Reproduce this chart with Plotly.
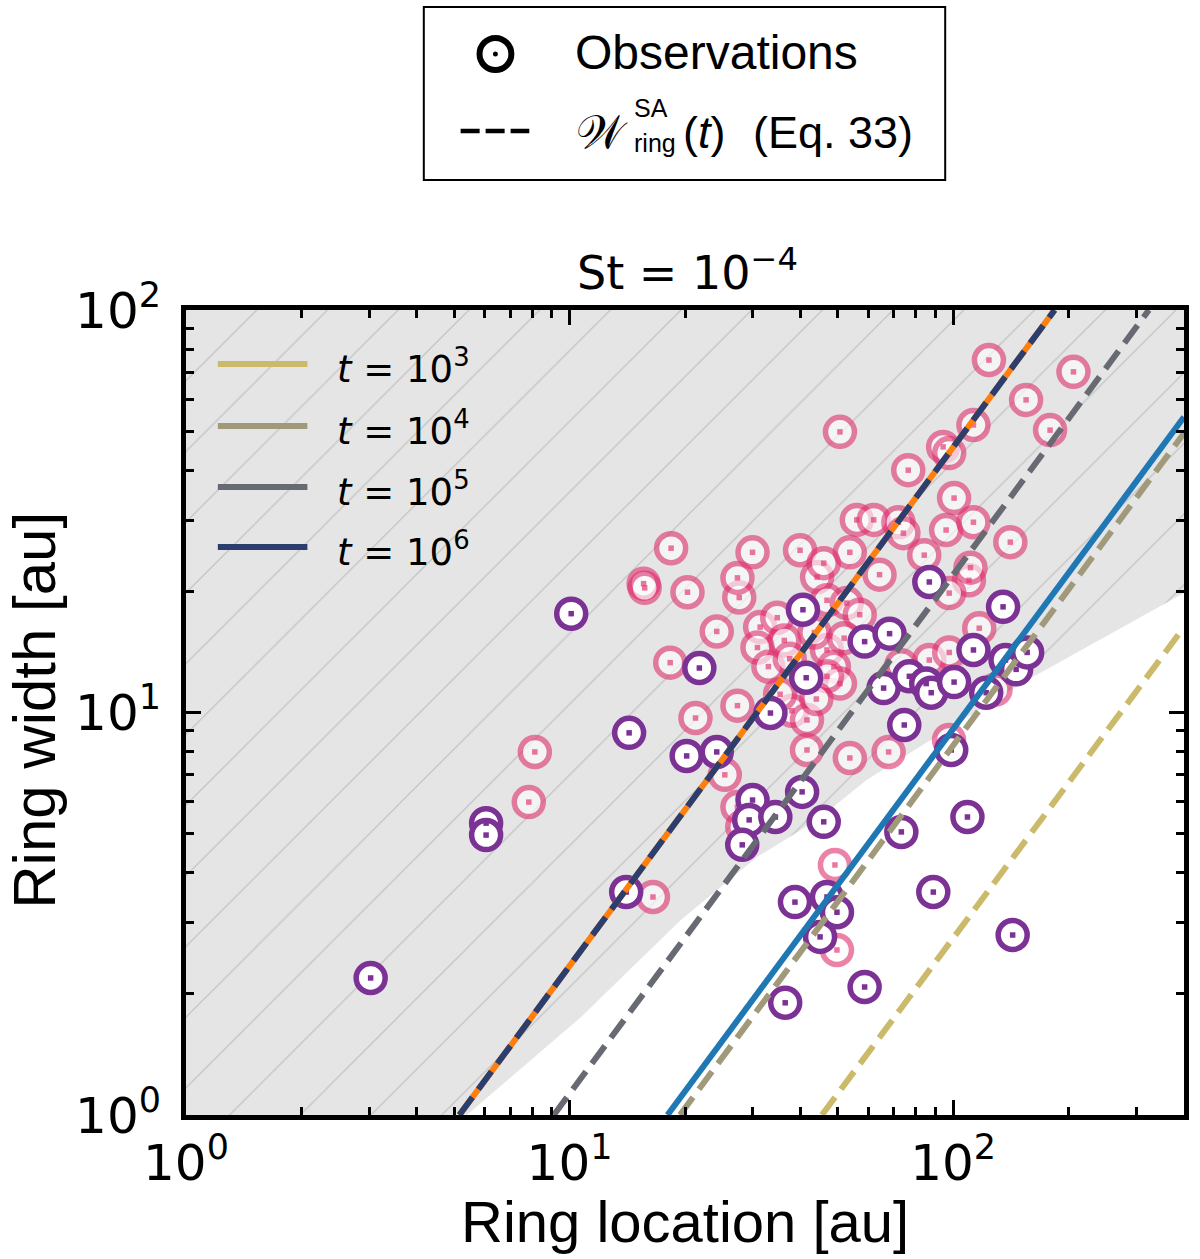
import numpy as np
import plotly.graph_objects as go

# ---------------- data ----------------
# Observations (ring location [au], ring width [au])
pink_x = [8.12, 7.83, 16.5, 18.4, 15.6, 15.7, 20.3, 24.2, 18.3, 21.3, 27.4, 25.4, 27.4, 28.2,
          49.2, 49.8, 27.7, 31.4, 34.8, 36.3, 30.9, 44.2, 64.3, 46.9, 52.8, 57.1, 46.9, 48.9,
          50.7, 46.9, 38.0, 41.6, 35.4, 41.6, 53.8, 67.9, 97.6, 117, 110, 97.7, 86.7, 97.7,
          73.3, 129, 124, 50.7, 113, 94.2, 97.7, 76.4, 100.6, 56.1, 62.1, 72.0, 74.2, 95.9,
          113, 141, 30.0, 39.9, 53.8, 46.0, 84.1, 111, 27.4, 206, 155, 179,
          33.0, 37.5, 43.5, 52.0, 44.0]
pink_y = [7.98, 5.99, 3.48, 25.6, 20.9, 20.4, 19.9, 15.9, 13.3, 9.69, 10.4, 7.0, 5.82, 5.2,
          4.18, 2.57, 19.3, 16.3, 17.2, 15.1, 14.5, 21.7, 22.0, 19.0, 18.7, 17.5, 14.3, 13.0,
          11.8, 12.3, 10.1, 9.58, 11.1, 8.07, 7.71, 7.98, 8.55, 16.2, 21.3, 19.8, 13.5, 14.1,
          13.1, 11.4, 75.1, 49.8, 51.8, 45.7, 44.1, 40.0, 34.1, 30.1, 30.1, 29.7, 27.9, 28.4,
          29.7, 26.5, 25.0, 25.3, 25.0, 23.5, 24.6, 22.9, 21.6, 70.2, 59.8, 50.3,
          13.0, 13.6, 15.8, 15.3, 10.8]

purple_x = [3.03, 6.06, 6.06, 10.1, 14.3, 14.05, 21.8, 20.2, 24.2, 33.4, 30.0, 29.4, 28.2,
            34.4, 40.4, 38.7, 46.0, 73.3, 109, 46.9, 49.8, 45.0, 88.8, 143, 58.8, 36.5,
            86.7, 40.6, 135, 58.8, 68.3, 41.4, 65.9, 76.9, 85.1, 87.7, 100.6, 113, 122,
            137, 146, 156, 74.6, 98.9]
purple_y = [2.19, 5.31, 4.96, 17.6, 8.9, 3.58, 12.9, 7.8, 7.98, 9.97, 6.06, 5.41, 4.69,
            5.5, 6.35, 3.38, 5.35, 5.05, 5.5, 3.48, 3.19, 2.77, 3.58, 2.80, 2.08, 1.90,
            21.1, 18.0, 18.3, 15.0, 15.7, 12.2, 11.5, 12.3, 11.8, 11.2, 11.9, 14.3, 11.2,
            13.5, 12.8, 14.1, 9.31, 8.07]

# shaded region lower boundary
shade_x = [5.4, 10.7, 19.5, 30.9, 44.2, 59.5, 155, 400]
shade_y = [1.0, 1.75, 3.05, 4.38, 5.41, 6.8, 12.0, 19.8]

# model lines (end points)
orange_x = [5.16, 184]; orange_y = [1, 100]
blue_x = [18.0, 400];   blue_y = [1, 54.2]
t6_x = [5.16, 184];     t6_y = [1, 100]
t5_x = [9.1, 324];      t5_y = [1, 100]
t4_x = [19.4, 400];     t4_y = [1, 49.4]
t3_x = [45.5, 400];     t3_y = [1, 16.3]

legend_labels = ["<i>t</i> = 10<sup>3</sup>", "<i>t</i> = 10<sup>4</sup>",
                 "<i>t</i> = 10<sup>5</sup>", "<i>t</i> = 10<sup>6</sup>"]
tick_vals = [1, 10, 100]
tick_text = ["10<sup>0</sup>", "10<sup>1</sup>", "10<sup>2</sup>"]

# ---------------- style ----------------
PINK = "#e0306f"
PURPLE = "#7b3294"
C3, C4, C5, C6 = "#cbba69", "#a09a7b", "#676a72", "#2c3e6e"
ORANGE, BLUE = "#ff7f0e", "#1f77b4"
DASH = "22px,10px"

W, H = 1200, 1259
PL, PR, PT, PB = 186, 1189, 310, 1115


def pxx(v):
    return (v - PL) / (PR - PL)


def pxy(v):
    return (PB - v) / (PB - PT)


fig = go.Figure()

# hatched region
fig.add_trace(go.Scatter(
    x=shade_x + [400, 1, 1], y=shade_y + [100, 100, 1],
    mode="lines", fill="toself", line=dict(width=0),
    fillcolor="#e5e5e5",
    fillpattern=dict(shape="/", size=50, solidity=0.025,
                     fgcolor="#a0a0a0", bgcolor="#e5e5e5"),
    hoverinfo="skip", showlegend=False))

# pink observations
fig.add_trace(go.Scatter(
    x=pink_x, y=pink_y, mode="markers",
    marker=dict(symbol="circle", size=29, color="white", opacity=0.6,
                line=dict(color=PINK, width=5.5)),
    showlegend=False))
fig.add_trace(go.Scatter(
    x=pink_x, y=pink_y, mode="markers",
    marker=dict(symbol="square", size=5.5, color=PINK, opacity=0.65,
                line=dict(width=0)),
    showlegend=False))
# purple observations
fig.add_trace(go.Scatter(
    x=purple_x, y=purple_y, mode="markers",
    marker=dict(symbol="circle", size=29, color="white",
                line=dict(color=PURPLE, width=5.5)),
    showlegend=False))
fig.add_trace(go.Scatter(
    x=purple_x, y=purple_y, mode="markers",
    marker=dict(symbol="square", size=5.5, color=PURPLE, line=dict(width=0)),
    showlegend=False))

# lines
for xs, ys, col, dash in [
        (orange_x, orange_y, ORANGE, "solid"),
        (t6_x, t6_y, C6, DASH),
        (t5_x, t5_y, C5, DASH),
        (blue_x, blue_y, BLUE, "solid"),
        (t4_x, t4_y, C4, DASH),
        (t3_x, t3_y, C3, DASH)]:
    fig.add_trace(go.Scatter(x=xs, y=ys, mode="lines",
                             line=dict(color=col, width=6, dash=dash),
                             showlegend=False, hoverinfo="skip"))

axis_common = dict(
    type="log", showgrid=False, zeroline=False,
    showline=True, linewidth=5, linecolor="black", mirror="allticks",
    ticks="inside", ticklen=15, tickwidth=3, tickcolor="black",
    tickvals=tick_vals, ticktext=tick_text,
    tickfont=dict(family="DejaVu Sans", size=50, color="black"),
)
fig.update_xaxes(range=[0, np.log10(400)], ticklabelstandoff=0,
                 minor=dict(tickvals=[2, 3, 4, 5, 6, 7, 8, 9, 20, 30, 40, 50, 60, 70, 80, 90,
                                      200, 300, 400],
                            ticks="inside", ticklen=8, tickwidth=2.5, tickcolor="black",
                            showgrid=False),
                 **axis_common)
fig.update_yaxes(range=[0, 2], ticklabelstandoff=10,
                 minor=dict(tickvals=[2, 3, 4, 5, 6, 7, 8, 9, 20, 30, 40, 50, 60, 70, 80, 90],
                            ticks="inside", ticklen=8, tickwidth=2.5, tickcolor="black",
                            showgrid=False),
                 **axis_common)

shapes = []
annotations = []

# inner legend
for yy, col, lab in zip([364, 426, 487, 547], [C3, C4, C5, C6], legend_labels):
    shapes.append(dict(type="line", xref="paper", yref="paper",
                       x0=pxx(218), x1=pxx(308), y0=pxy(yy), y1=pxy(yy),
                       line=dict(color=col, width=6)))
    annotations.append(dict(text=lab, xref="paper", yref="paper",
                            x=pxx(336), y=pxy(yy + 2), xanchor="left", yanchor="middle",
                            showarrow=False,
                            font=dict(family="DejaVu Sans", size=37, color="black")))

# top legend box
shapes.append(dict(type="rect", xref="paper", yref="paper",
                   x0=pxx(425), x1=pxx(949), y0=pxy(180), y1=pxy(7),
                   line=dict(color="black", width=2), fillcolor="white", layer="above"))
shapes.append(dict(type="circle", xref="paper", yref="paper",
                   x0=pxx(481), x1=pxx(513), y0=pxy(70), y1=pxy(38),
                   line=dict(color="black", width=6)))
shapes.append(dict(type="circle", xref="paper", yref="paper",
                   x0=pxx(494.5), x1=pxx(499.5), y0=pxy(56.5), y1=pxy(51.5),
                   line=dict(color="black", width=0), fillcolor="black"))
shapes.append(dict(type="line", xref="paper", yref="paper",
                   x0=pxx(462), x1=pxx(531), y0=pxy(131), y1=pxy(131),
                   line=dict(color="black", width=4.5, dash="19px,6px")))

LF = "Liberation Sans"
annotations += [
    dict(text="Observations", x=pxx(575), y=pxy(53), xanchor="left", yanchor="middle",
         font=dict(family=LF, size=48, color="black")),
    dict(text="𝒲", x=pxx(576), y=pxy(132), xanchor="left", yanchor="middle",
         font=dict(family="DejaVu Serif", size=46, color="black")),
    dict(text="SA", x=pxx(634), y=pxy(108), xanchor="left", yanchor="middle",
         font=dict(family=LF, size=25, color="black")),
    dict(text="ring", x=pxx(634), y=pxy(143), xanchor="left", yanchor="middle",
         font=dict(family=LF, size=25, color="black")),
    dict(text="(<i>t</i>)", x=pxx(683), y=pxy(132), xanchor="left", yanchor="middle",
         font=dict(family=LF, size=45, color="black")),
    dict(text="(Eq. 33)", x=pxx(754), y=pxy(132), xanchor="left", yanchor="middle",
         font=dict(family=LF, size=45, color="black")),
    # title
    dict(text="St = 10<sup>−4</sup>", x=pxx(690), y=pxy(270), xanchor="center",
         yanchor="middle", font=dict(family="DejaVu Sans", size=46, color="black")),
    # axis titles
    dict(text="Ring location [au]", x=pxx(687), y=pxy(1221), xanchor="center",
         yanchor="middle", font=dict(family=LF, size=58, color="black")),
    dict(text="Ring width [au]", x=pxx(33), y=pxy(710), xanchor="center",
         yanchor="middle", textangle=-90, font=dict(family=LF, size=60, color="black")),
]
for a in annotations:
    a.setdefault("xref", "paper")
    a.setdefault("yref", "paper")
    a.setdefault("showarrow", False)

fig.update_layout(
    width=W, height=H,
    margin=dict(l=PL, r=W - PR, t=PT, b=H - PB),
    plot_bgcolor="white", paper_bgcolor="white",
    showlegend=False,
    shapes=shapes, annotations=annotations,
)

fig.write_html("out.html", config={"displayModeBar": False},
               post_script="document.body.style.margin='0';")
